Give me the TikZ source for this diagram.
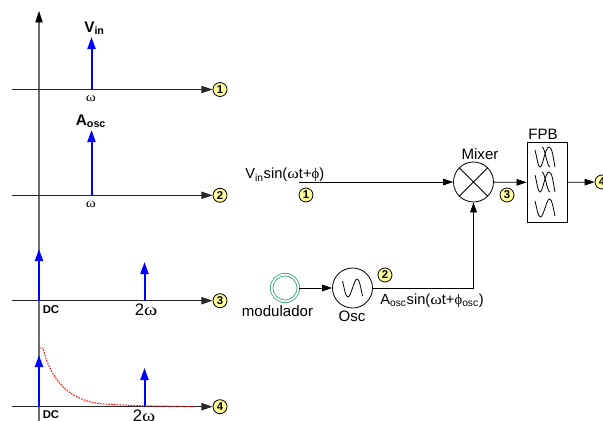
\documentclass[tikz,border=0pt]{standalone}
\usepackage{fontspec}
\setmainfont{Liberation Sans}
\newfontfamily\symfont{Liberation Serif}
\usetikzlibrary{arrows.meta}
\newcommand{\omegasym}{{\symfont\addfontfeature{FakeStretch=1.2}ω}}
\newcommand{\phisym}{{\symfont ϕ}}
\tikzset{
    axisline/.style={draw={rgb,255:red,40;green,40;blue,40},line width=0.8pt,-{Triangle[length=8.5pt,width=5.5pt]}},
    spike/.style={draw={rgb,255:red,0;green,0;blue,255},line width=1.5pt,-{Triangle[length=9pt,width=6pt]}},
    flow/.style={draw=black,line width=0.6pt,-{Triangle[length=7.5pt,width=5pt]}},
    badge/.style={circle,draw=black,line width=0.6pt,fill={rgb,255:red,255;green,255;blue,153},minimum size=10.5pt,inner sep=0pt,font=\bfseries\fontsize{8.5}{9}\selectfont},
    blockcircle/.style={circle,draw=black,line width=0.6pt,minimum size=30pt,inner sep=0pt},
    plotlabel/.style={inner sep=0.75pt,font=\fontsize{9.5}{10}\selectfont},
    boldlabel/.style={inner sep=0.75pt,font=\bfseries\fontsize{11.5}{13}\selectfont},
    dclabel/.style={inner sep=0.75pt,font=\bfseries\fontsize{8.5}{10}\selectfont},
    blocklabel/.style={inner sep=0.75pt,font=\fontsize{11.3}{13}\selectfont},
    twolabel/.style={inner sep=0.75pt,font=\fontsize{12.5}{14}\selectfont},
    pics/sinewave/.style={code={
        \draw[line width=0.6pt] (-10,7) .. controls (-8,-1) and (-7,-9) .. (-4.5,-9) .. controls (-1.5,-9) and (1.5,9) .. (4.5,9) .. controls (7,9) and (8,1) .. (10,-8);
    }},
    pics/crosswave/.style={code={
        \draw[line width=0.6pt] (-10,7) .. controls (-8,-1) and (-7,-10) .. (-5,-10) .. controls (-2,-10) and (0,10) .. (4,10) .. controls (7,10) and (8,1) .. (10,-10);
        \draw[line width=0.6pt] (-3,10) .. controls (0,10) and (2,-10) .. (5,-10);
    }},
}
\begin{document}
\begin{tikzpicture}[x=0.75pt,y=0.75pt,yscale=-1,xscale=1]
    \useasboundingbox (0,0) rectangle (603,421);
    % Main axis
    \coordinate (axisbottom) at (39,421);
    \coordinate (axistop) at (39,11);
    \draw [draw={rgb,255:red,110;green,110;blue,110},line width=1pt] (axisbottom) -- (39,20);
    \draw [-{Triangle[length=8.5pt,width=5.5pt]},black] (39,20) -- (axistop);
    % Frequency axes
    \coordinate (startA) at (12,89.5);
    \coordinate (startB) at (12,195.3);
    \coordinate (startC) at (12,300.7);
    \coordinate (startD) at (12,406.7);
    \node (badgeA) at (220,89.5) [badge] {1};
    \node (badgeB) at (220,195.3) [badge] {2};
    \node (badgeC) at (220,300.7) [badge] {3};
    \node (badgeD) at (220,406.7) [badge] {4};
    \draw [axisline] (startA) -- (badgeA);
    \draw [axisline] (startB) -- (badgeB);
    \draw [axisline] (startC) -- (badgeC);
    \draw [axisline] (startD) -- (badgeD);
    % Spikes
    \coordinate (vinbase) at (91.5,89.5);
    \coordinate (vintop) at (91.5,37);
    \coordinate (oscbase) at (91.5,195.3);
    \coordinate (osctop) at (91.5,130);
    \coordinate (dcbaseC) at (39,300.7);
    \coordinate (dctopC) at (39,249);
    \coordinate (twobaseC) at (144.5,300.7);
    \coordinate (twotopC) at (144.5,262);
    \coordinate (dcbaseD) at (39,406.7);
    \coordinate (dctopD) at (39,355);
    \coordinate (twobaseD) at (144.5,406.7);
    \coordinate (twotopD) at (144.5,368);
    \draw [spike] (vinbase) -- (vintop);
    \draw [spike] (oscbase) -- (osctop);
    \draw [spike] (dcbaseC) -- (dctopC);
    \draw [spike] (twobaseC) -- (twotopC);
    \draw [spike] (dcbaseD) -- (dctopD);
    \draw [spike] (twobaseD) -- (twotopD);
    % Red decay
    \draw [draw={rgb,255:red,255;green,0;blue,0},line width=0.75pt,dash pattern={on 1.2pt off 0.9pt}] (39,348) -- (43,348) .. controls (50,378) and (68,402) .. (105,404) .. controls (130,406) and (160,406) .. (195,406.7);
    % Plot labels
    \node (vinlabel) at (94.5,28.5) [boldlabel] {V\textsubscript{in}};
    \node (wlabelA) at (91,99) [plotlabel] {\omegasym};
    \node (osclabel) at (91,121.5) [boldlabel] {A\textsubscript{osc}};
    \node (wlabelB) at (91,205) [plotlabel] {\omegasym};
    \node (dclabelC) at (51,309.5) [dclabel] {DC};
    \node (twolabelC) at (146,310) [twolabel] {2\omegasym};
    \node (dclabelD) at (51,415) [dclabel] {DC};
    \node (twolabelD) at (144,416) [twolabel] {2\omegasym};
    % Block diagram
    \node (mixer) at (473.5,182) [blockcircle] {};
    \draw [line width=0.6pt] (mixer.45) -- (mixer.225) (mixer.135) -- (mixer.315);
    \node (mixerlabel) at (480,154.5) [blocklabel] {Mixer};
    \node (fpb) at (547,182.5) [draw=black,line width=0.6pt,minimum width=30pt,minimum height=59.5pt,inner sep=0pt] {};
    \node (fpblabel) at (543,134) [blocklabel] {FPB};
    \pic at (545,157) {crosswave};
    \pic at (545,182) {crosswave};
    \pic at (545,208) {sinewave};
    \node (osc) at (352.5,288) [blockcircle] {};
    \pic at (352.5,288) {sinewave};
    \node (osclabelb) at (352,316) [blocklabel] {Osc};
    \node (mod) at (285,288) [circle,draw={rgb,255:red,50;green,160;blue,120},double,double distance=1.4pt,line width=0.6pt,minimum size=20pt,inner sep=0pt] {};
    \node (modlabel) at (277.5,311) [blocklabel] {modulador};
    \coordinate (input) at (299,182);
    \node (badgeone) at (306,195) [badge] {1};
    \node (badgetwo) at (385,275) [badge] {2};
    \node (badgethree) at (507,195) [badge] {3};
    \node (badgefour) at (602,182) [badge] {4};
    \draw [flow] (input) -- (mixer);
    \draw [flow] (mixer) -- (fpb);
    \draw [flow] (fpb) -- (badgefour);
    \draw [flow] (mod) -- (osc);
    \draw [flow] (osc) -| (mixer);
    \node (vintext) at (245,175) [anchor=west,inner sep=0pt,font=\fontsize{11}{13}\selectfont] {V\textsubscript{in}sin(\omegasym t+\phisym)};
    \node (osctext) at (380,301) [anchor=west,inner sep=0pt,font=\fontsize{11}{13}\selectfont] {A\textsubscript{osc}sin(\omegasym t+\phisym\textsubscript{osc})};
\end{tikzpicture}
\end{document}
